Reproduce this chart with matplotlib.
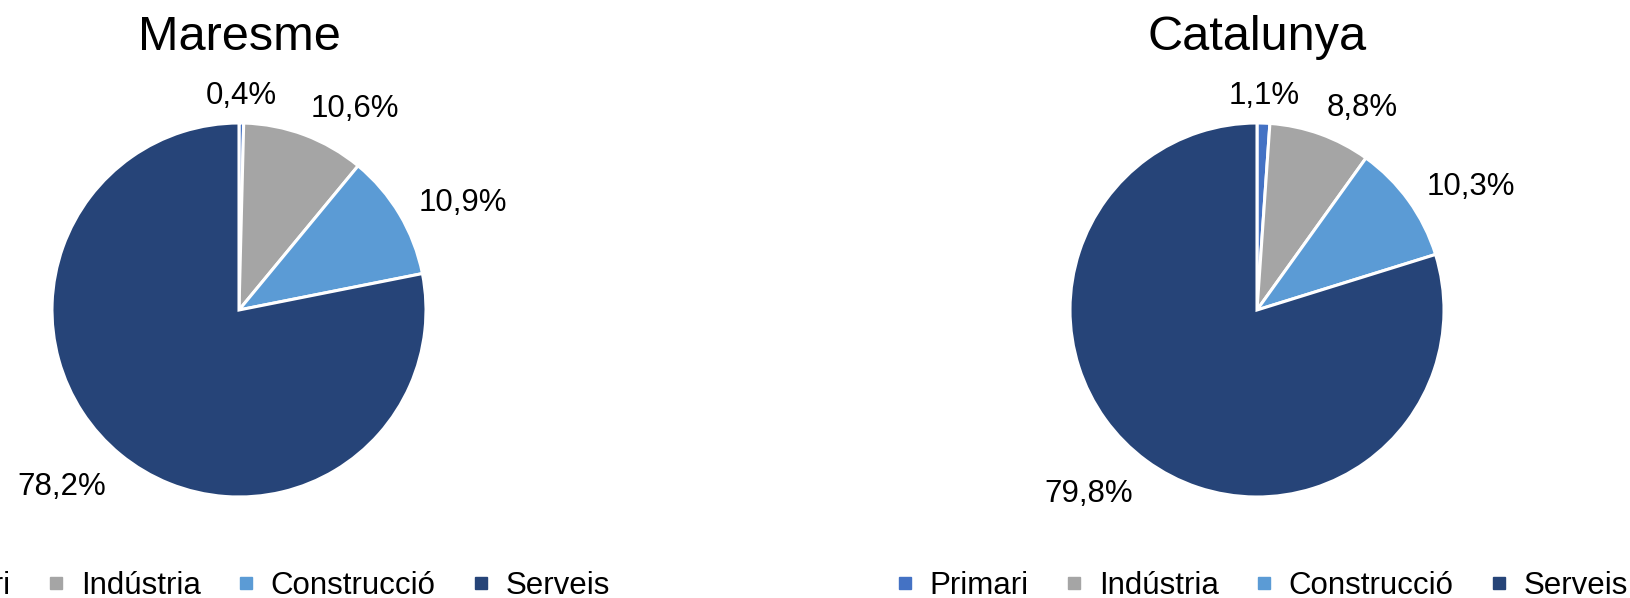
import numpy as np
import matplotlib.pyplot as plt
from matplotlib.lines import Line2D

plt.rcParams['font.family'] = ['Liberation Sans', 'DejaVu Sans']

sectors = ['Primari', 'Indústria', 'Construcció', 'Serveis']
colors = ['#4472C4', '#A5A5A5', '#5B9BD5', '#264478']
maresme = [0.4, 10.6, 10.9, 78.2]
catalunya = [1.1, 8.8, 10.3, 79.8]

W, H = 1631, 598
fig = plt.figure(figsize=(W / 100, H / 100), dpi=100)


def pie_chart(cx, cy, r, values, title):
    ax = fig.add_axes([(cx - r) / W, 1 - (cy + r) / H, 2 * r / W, 2 * r / H])
    wedges, _ = ax.pie(values, colors=colors, startangle=90, counterclock=False,
                       wedgeprops=dict(edgecolor='white', linewidth=2.2))
    ax.set_xlim(-1, 1)
    ax.set_ylim(-1, 1)
    for w, v in zip(wedges, values):
        ang = np.deg2rad((w.theta1 + w.theta2) / 2)
        c, s = np.cos(ang), np.sin(ang)
        ha = 'center' if abs(c) < 0.15 else ('left' if c > 0 else 'right')
        va = 'baseline' if s > 0.6 else ('top' if s < -0.6 else 'center')
        d = 1.1 if s > 0.6 else 1.12
        ax.text(d * c, d * s, f'{v:.1f}'.replace('.', ',') + '%',
                ha=ha, va=va, fontsize=22.5)
    fig.text(cx / W, 1 - 38 / H, title, ha='center', va='center', fontsize=35)


pie_chart(239, 310, 187, maresme, 'Maresme')
pie_chart(1257, 310, 187, catalunya, 'Catalunya')

handles = [Line2D([], [], marker='s', ls='none', color=c, markersize=8) for c in colors]
for x0 in (-121, 897):
    fig.legend(handles, sectors, loc='center left', bbox_to_anchor=(x0 / W, 1 - 586 / H),
               ncol=4, frameon=False, fontsize=22.5, handlelength=0.5, handletextpad=0.55,
               columnspacing=1.19, borderpad=0, borderaxespad=0)

fig.savefig('out.png', dpi=100)
